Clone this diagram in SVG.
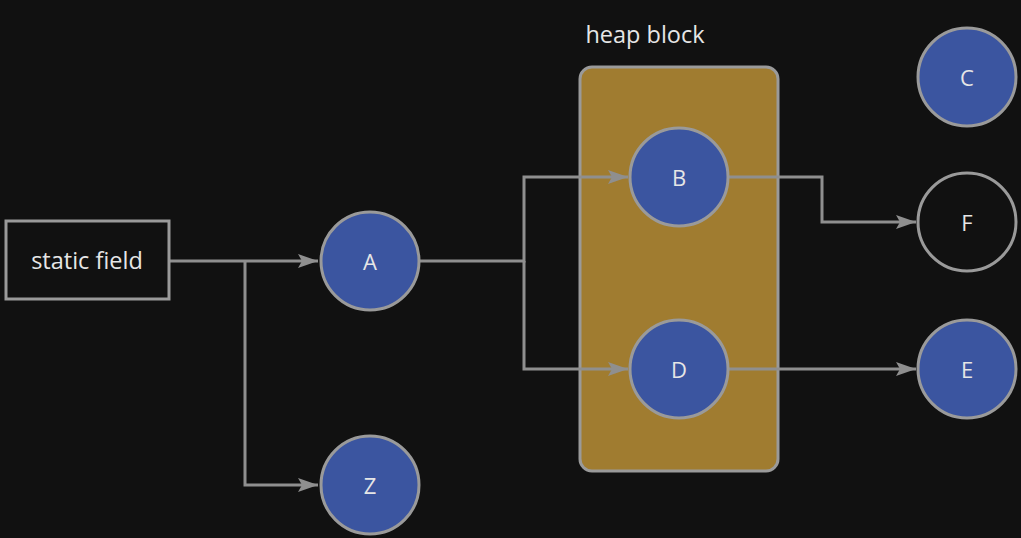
<svg xmlns="http://www.w3.org/2000/svg" width="1021" height="538" viewBox="0 0 1021 538">
<defs>
<style>
.node{fill:#3b55a0;stroke:#9a9a9a;stroke-width:3}
.hollow{fill:none;stroke:#9a9a9a;stroke-width:3}
.lbl{font-family:"Open Sans","Noto Sans","DejaVu Sans",sans-serif;font-size:22px;fill:#e6e6e6;text-anchor:middle;dominant-baseline:central}
.big{font-size:23.5px}
.edge{fill:none;stroke:#8f8f8f;stroke-width:3}
</style>
<marker id="arrow" viewBox="0 0 20 14" refX="20" refY="7" markerWidth="20" markerHeight="14" markerUnits="userSpaceOnUse" orient="auto">
<path d="M0,0 L20,7 L0,14 L4,7 z" fill="#8f8f8f"/>
</marker>
</defs>
<rect width="1021" height="538" fill="#111111"/>
<g id="heap-block">
<rect x="580" y="67" width="198" height="404" rx="12" fill="#a07c30" stroke="#9a9a9a" stroke-width="3"/>
<text class="lbl big" x="645" y="34">heap block</text>
</g>
<g id="connectors">
<path class="edge" d="M169,261 H318" marker-end="url(#arrow)"/>
<path class="edge" d="M245,261 V485 H318" marker-end="url(#arrow)"/>
<path class="edge" d="M420,261 H524 V177 H628" marker-end="url(#arrow)"/>
<path class="edge" d="M524,261 V369 H628" marker-end="url(#arrow)"/>
<path class="edge" d="M729,177 H822 V222 H916" marker-end="url(#arrow)"/>
<path class="edge" d="M729,369 H916" marker-end="url(#arrow)"/>
</g>
<g id="static-field">
<rect x="6" y="221" width="163" height="78" fill="none" stroke="#9a9a9a" stroke-width="3"/>
<text class="lbl big" x="87" y="260">static field</text>
</g>
<g id="A"><circle class="node" cx="370" cy="261" r="49"/><text class="lbl" x="370" y="261">A</text></g>
<g id="Z"><circle class="node" cx="370" cy="485" r="49"/><text class="lbl" x="370" y="485">Z</text></g>
<g id="B"><circle class="node" cx="679" cy="177" r="49"/><text class="lbl" x="679" y="177">B</text></g>
<g id="D"><circle class="node" cx="679" cy="369" r="49"/><text class="lbl" x="679" y="369">D</text></g>
<g id="C"><circle class="node" cx="967" cy="77" r="49"/><text class="lbl" x="967" y="77">C</text></g>
<g id="F"><circle class="hollow" cx="967" cy="222" r="49"/><text class="lbl" x="967" y="222">F</text></g>
<g id="E"><circle class="node" cx="967" cy="369" r="49"/><text class="lbl" x="967" y="369">E</text></g>
</svg>
